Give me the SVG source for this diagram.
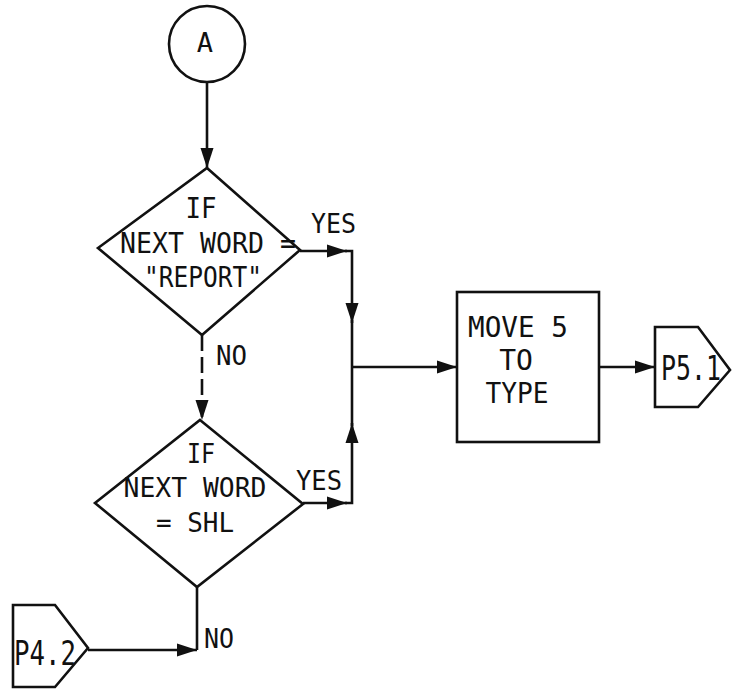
<svg xmlns="http://www.w3.org/2000/svg" width="740" height="689" viewBox="0 0 740 689">
  <style>
    .shape { fill: none; stroke: #111; stroke-width: 2.6; }
    .conn { fill: none; stroke: #111; stroke-width: 2.6; }
    .dash { stroke-dasharray: 16 6; }
    text { font-family: "DejaVu Sans Mono", "Liberation Mono", monospace; fill: #111; }
    .t { font-size: 29px; text-anchor: middle; }
    .t2 { font-size: 27px; text-anchor: middle; }
    .tb { font-size: 28px; text-anchor: middle; }
    .tp { font-size: 33px; text-anchor: middle; }
    .lbl { font-size: 27px; }
  </style>
  <defs>
    <marker id="arr" markerUnits="userSpaceOnUse" markerWidth="22" markerHeight="14" refX="20" refY="7" orient="auto">
      <path d="M0,0.5 L20,7 L0,13.5 z" fill="#111"/>
    </marker>
  </defs>
  <rect width="740" height="689" fill="#ffffff"/>

  <g id="connectors">
    <path class="conn" d="M207,83 V168" marker-end="url(#arr)"/>
    <path class="conn" d="M300,251 H347" marker-end="url(#arr)"/>
    <path class="conn" d="M345,251 H352 V323" marker-end="url(#arr)"/>
    <path class="conn" d="M352,320 V367"/>
    <path class="conn" d="M303,503 H347" marker-end="url(#arr)"/>
    <path class="conn" d="M345,503 H352 V423" marker-end="url(#arr)"/>
    <path class="conn" d="M352,426 V367"/>
    <path class="conn" d="M352,367 H457" marker-end="url(#arr)"/>
    <path class="conn" d="M599,367 H655" marker-end="url(#arr)"/>
    <path class="conn dash" d="M202,335 V420" marker-end="url(#arr)"/>
    <path class="conn" d="M197,587 V650"/>
    <path class="conn" d="M88,650 H197" marker-end="url(#arr)"/>
    <text class="lbl" x="311" y="233" textLength="45" lengthAdjust="spacingAndGlyphs">YES</text>
    <text class="lbl" x="296" y="490" textLength="46" lengthAdjust="spacingAndGlyphs">YES</text>
    <text class="lbl" x="216" y="365" textLength="31" lengthAdjust="spacingAndGlyphs">NO</text>
    <text class="lbl" x="204" y="648" textLength="30" lengthAdjust="spacingAndGlyphs">NO</text>
  </g>

  <g id="connector-A">
    <circle class="shape" cx="207" cy="44" r="38"/>
    <text class="t2" x="205" y="52">A</text>
  </g>

  <g id="decision-report">
    <polygon class="shape" points="207,168 300,250 202,335 98,248"/>
    <text class="t" x="201" y="218" textLength="31" lengthAdjust="spacingAndGlyphs">IF</text>
    <text class="t" x="208" y="253" textLength="176" lengthAdjust="spacingAndGlyphs">NEXT WORD =</text>
    <text class="t" x="203" y="287" textLength="118" lengthAdjust="spacingAndGlyphs">"REPORT"</text>
  </g>

  <g id="decision-shl">
    <polygon class="shape" points="200,420 303,504 197,587 95,503"/>
    <text class="t2" x="201" y="463" textLength="28" lengthAdjust="spacingAndGlyphs">IF</text>
    <text class="t2" x="195" y="497" textLength="143" lengthAdjust="spacingAndGlyphs">NEXT WORD</text>
    <text class="t2" x="195" y="532" textLength="78" lengthAdjust="spacingAndGlyphs">= SHL</text>
  </g>

  <g id="process-move">
    <rect class="shape" x="457" y="292" width="142" height="150"/>
    <text class="tb" x="518" y="337" textLength="100" lengthAdjust="spacingAndGlyphs">MOVE 5</text>
    <text class="tb" x="516" y="370">TO</text>
    <text class="tb" x="517" y="403" textLength="63" lengthAdjust="spacingAndGlyphs">TYPE</text>
  </g>

  <g id="offpage-p51">
    <polygon class="shape" points="655,327 698,327 730,370 698,407 655,407"/>
    <text class="tp" x="691" y="380" textLength="60" lengthAdjust="spacingAndGlyphs">P5.1</text>
  </g>

  <g id="offpage-p42">
    <polygon class="shape" points="13,605 55,605 88,648 55,687 13,687"/>
    <text class="tp" x="45" y="665" textLength="62" lengthAdjust="spacingAndGlyphs">P4.2</text>
  </g>
</svg>
